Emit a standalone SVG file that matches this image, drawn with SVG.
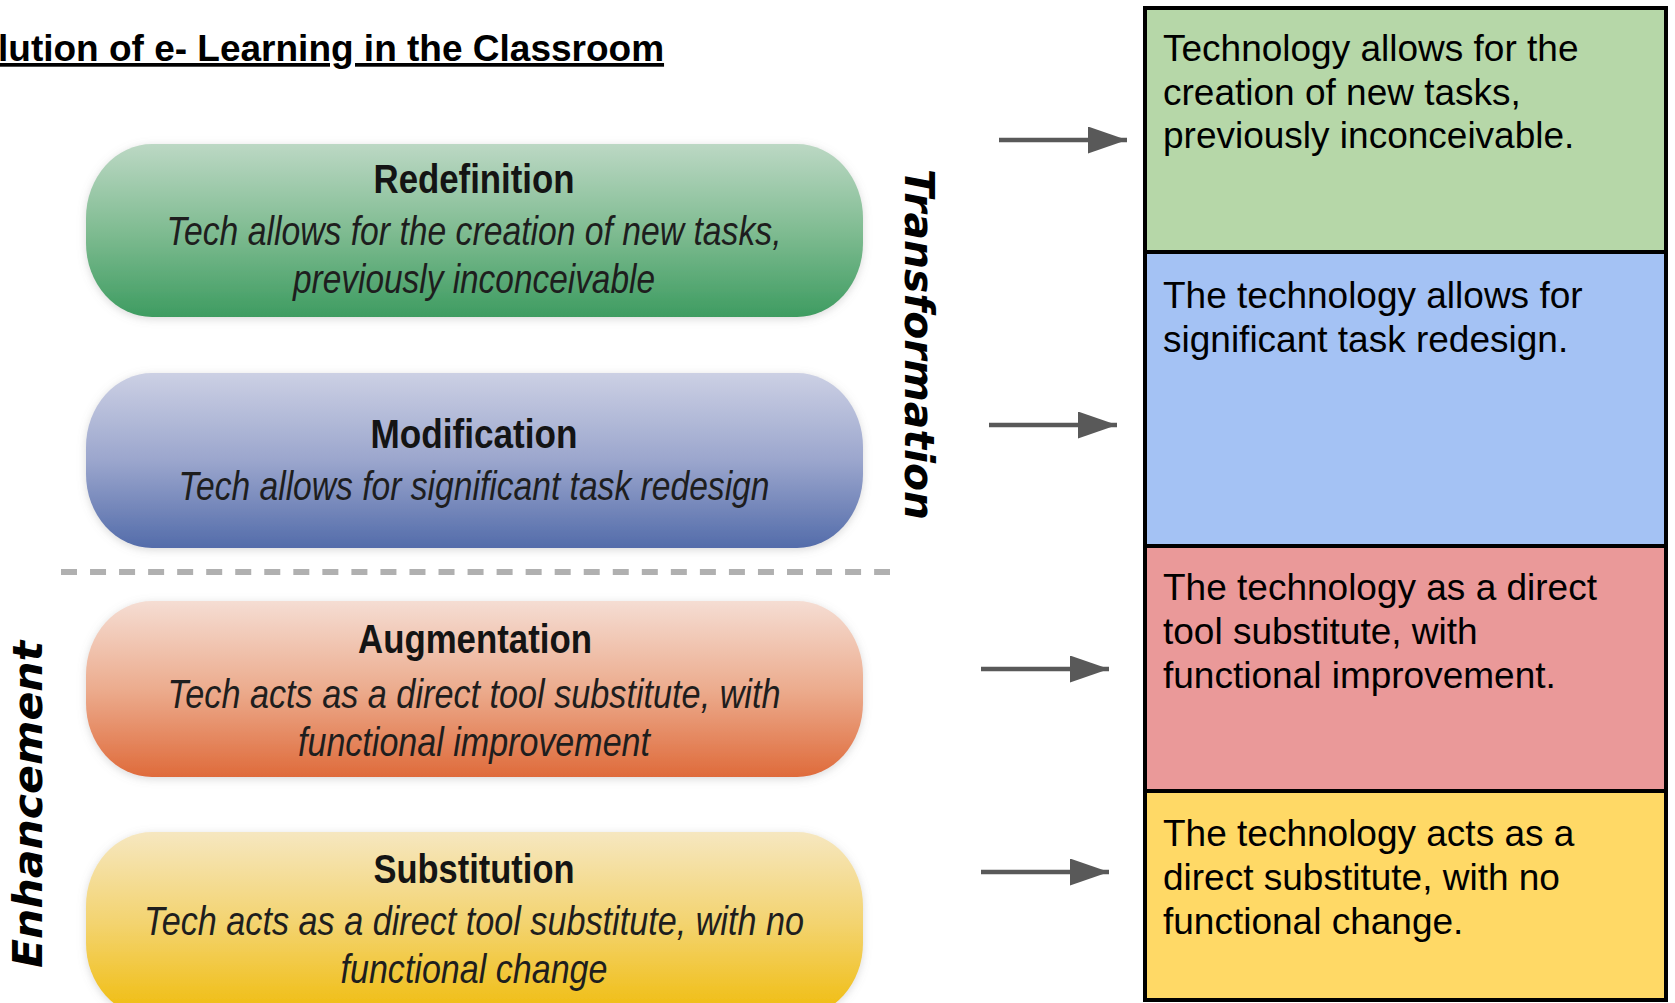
<svg xmlns="http://www.w3.org/2000/svg" width="1675" height="1003" viewBox="0 0 1675 1003">
<defs>
<style>
.title{font-family:"Liberation Sans",Arial,sans-serif;font-weight:bold;font-size:37px;fill:#000;}
.ph{font-family:"Liberation Sans",Arial,sans-serif;font-weight:bold;font-size:40px;fill:#141414;text-anchor:middle;}
.pi{font-family:"Liberation Sans",Arial,sans-serif;font-style:italic;font-size:40px;fill:#1e1e1e;text-anchor:middle;}
.side{font-family:"DejaVu Sans",Verdana,sans-serif;font-weight:bold;font-style:italic;font-size:41px;fill:#000;}
.bt{font-family:"Liberation Sans",Arial,sans-serif;font-size:37px;fill:#000;}
.box{stroke:#000;stroke-width:4;}
.arrow{stroke:#595959;stroke-width:4.5;fill:none;}
</style>
<linearGradient id="gG" x1="0" y1="0" x2="0" y2="1">
<stop offset="0" stop-color="#bcd8c4"/><stop offset="0.5" stop-color="#80bc92"/><stop offset="1" stop-color="#3e9c61"/>
</linearGradient>
<linearGradient id="gB" x1="0" y1="0" x2="0" y2="1">
<stop offset="0" stop-color="#ccd0e4"/><stop offset="0.5" stop-color="#9ba6cd"/><stop offset="1" stop-color="#536caa"/>
</linearGradient>
<linearGradient id="gO" x1="0" y1="0" x2="0" y2="1">
<stop offset="0" stop-color="#f5ddd3"/><stop offset="0.5" stop-color="#ecac8e"/><stop offset="1" stop-color="#df6b3b"/>
</linearGradient>
<linearGradient id="gY" x1="0" y1="0" x2="0" y2="1">
<stop offset="0" stop-color="#f6e7c0"/><stop offset="0.5" stop-color="#f3d36e"/><stop offset="1" stop-color="#f0bc0c"/>
</linearGradient>
<filter id="soft" x="-5%" y="-15%" width="110%" height="130%">
<feGaussianBlur in="SourceAlpha" stdDeviation="4"/>
<feOffset dx="0" dy="2" result="b"/>
<feFlood flood-color="#808080" flood-opacity="0.3"/>
<feComposite in2="b" operator="in"/>
<feMerge><feMergeNode/><feMergeNode in="SourceGraphic"/></feMerge>
</filter>
<marker id="ah" markerUnits="userSpaceOnUse" markerWidth="40" markerHeight="28" refX="39" refY="13.5" orient="auto">
<path d="M0,0 L39,13.5 L0,27 z" fill="#595959"/>
</marker>
</defs>
<rect width="1675" height="1003" fill="#ffffff"/>

<g id="title">
<text class="title" x="-2" y="61" text-decoration="underline">lution of e- Learning in the Classroom</text>
</g>

<g id="redefinition">
<rect x="86" y="144" width="777" height="173" rx="66" ry="74" fill="url(#gG)" filter="url(#soft)"/>
<text class="ph" x="474" y="193" textLength="201" lengthAdjust="spacingAndGlyphs">Redefinition</text>
<text class="pi" x="474" y="245" textLength="615" lengthAdjust="spacingAndGlyphs">Tech allows for the creation of new tasks,</text>
<text class="pi" x="474" y="293" textLength="362" lengthAdjust="spacingAndGlyphs">previously inconceivable</text>
</g>

<g id="modification">
<rect x="86" y="373" width="777" height="175" rx="66" ry="74" fill="url(#gB)" filter="url(#soft)"/>
<text class="ph" x="474" y="448" textLength="207" lengthAdjust="spacingAndGlyphs">Modification</text>
<text class="pi" x="474" y="500" textLength="591" lengthAdjust="spacingAndGlyphs">Tech allows for significant task redesign</text>
</g>

<g id="divider">
<line x1="61" y1="572" x2="890" y2="572" stroke="#b0b0b0" stroke-width="6" stroke-dasharray="16 13.04"/>
</g>

<g id="augmentation">
<rect x="86" y="601" width="777" height="176" rx="66" ry="74" fill="url(#gO)" filter="url(#soft)"/>
<text class="ph" x="475" y="653" textLength="234" lengthAdjust="spacingAndGlyphs">Augmentation</text>
<text class="pi" x="474" y="708" textLength="613" lengthAdjust="spacingAndGlyphs">Tech acts as a direct tool substitute, with</text>
<text class="pi" x="474" y="756" textLength="352" lengthAdjust="spacingAndGlyphs">functional improvement</text>
</g>

<g id="substitution">
<rect x="86" y="832" width="777" height="185" rx="66" ry="74" fill="url(#gY)" filter="url(#soft)"/>
<text class="ph" x="474" y="883" textLength="201" lengthAdjust="spacingAndGlyphs">Substitution</text>
<text class="pi" x="474" y="935" textLength="660" lengthAdjust="spacingAndGlyphs">Tech acts as a direct tool substitute, with no</text>
<text class="pi" x="474" y="983" textLength="267" lengthAdjust="spacingAndGlyphs">functional change</text>
</g>

<g id="label-transformation">
<text class="side" transform="translate(905,169) rotate(90)" textLength="351" lengthAdjust="spacingAndGlyphs">Transformation</text>
</g>

<g id="label-enhancement">
<text class="side" transform="translate(42,968) rotate(-90)" textLength="327" lengthAdjust="spacingAndGlyphs">Enhancement</text>
</g>

<g id="box-redefinition">
<rect class="box" x="1145" y="8" width="521" height="244" fill="#b6d7a8"/>
<text class="bt" x="1163" y="61">Technology allows for the</text>
<text class="bt" x="1163" y="105">creation of new tasks,</text>
<text class="bt" x="1163" y="148">previously inconceivable.</text>
</g>

<g id="box-modification">
<rect class="box" x="1145" y="252" width="521" height="294" fill="#a4c2f4"/>
<text class="bt" x="1163" y="308">The technology allows for</text>
<text class="bt" x="1163" y="352">significant task redesign.</text>
</g>

<g id="box-augmentation">
<rect class="box" x="1145" y="546" width="521" height="245" fill="#ea9999"/>
<text class="bt" x="1163" y="600">The technology as a direct</text>
<text class="bt" x="1163" y="644">tool substitute, with</text>
<text class="bt" x="1163" y="688">functional improvement.</text>
</g>

<g id="box-substitution">
<rect class="box" x="1145" y="791" width="521" height="209" fill="#ffd966"/>
<text class="bt" x="1163" y="846">The technology acts as a</text>
<text class="bt" x="1163" y="890">direct substitute, with no</text>
<text class="bt" x="1163" y="934">functional change.</text>
</g>

<g id="connectors">
<line class="arrow" x1="999" y1="140" x2="1127" y2="140" marker-end="url(#ah)"/>
<line class="arrow" x1="989" y1="425" x2="1117" y2="425" marker-end="url(#ah)"/>
<line class="arrow" x1="981" y1="669" x2="1109" y2="669" marker-end="url(#ah)"/>
<line class="arrow" x1="981" y1="872" x2="1109" y2="872" marker-end="url(#ah)"/>
</g>
</svg>
